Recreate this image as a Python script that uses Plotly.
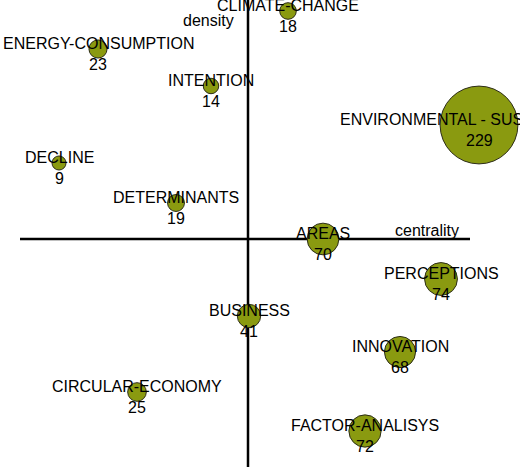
import plotly.graph_objects as go

# Strategic diagram (centrality vs density)
themes = ["CLIMATE-CHANGE", "ENERGY-CONSUMPTION", "INTENTION", "ENVIRONMENTAL - SUSTAINABILITY",
          "DECLINE", "DETERMINANTS", "AREAS", "PERCEPTIONS", "BUSINESS", "INNOVATION",
          "CIRCULAR-ECONOMY", "FACTOR-ANALISYS"]
centrality = [4.0, -15.0, -3.7, 23.1, -18.9, -7.2, 7.5, 19.3, 0.1, 15.2, -11.1, 11.7]
density = [22.8, 19.0, 15.3, 11.4, 7.6, 3.6, 0.0, -4.0, -7.7, -11.3, -15.3, -19.2]
documents = [18, 23, 14, 229, 9, 19, 70, 74, 41, 68, 25, 72]

FONT = "Arial, 'Liberation Sans', sans-serif"
OLIVE = "rgb(138,154,16)"


def bubble_diameter(v):
    # linear size scale: bubble diameter grows with the number of documents
    return 11.4 + 0.29 * v


fig = go.Figure()
fig.add_trace(go.Scatter(
    x=centrality, y=density, mode="markers",
    marker=dict(size=[bubble_diameter(v) for v in documents], sizemode="diameter",
                color=OLIVE, line=dict(color="rgb(45,45,25)", width=1), opacity=1),
    hoverinfo="skip", showlegend=False, cliponaxis=False,
))

annotations = []
for name, cx, dy, n in zip(themes, centrality, density, documents):
    annotations.append(dict(x=cx, y=dy, xref="x", yref="y", text=name, showarrow=False,
                            yshift=6, font=dict(family=FONT, size=16, color="#000")))
    annotations.append(dict(x=cx, y=dy, xref="x", yref="y", text=str(n), showarrow=False,
                            yshift=-15, font=dict(family=FONT, size=16, color="#000")))

annotations.append(dict(x=-4.0, y=21.9, xref="x", yref="y", text="density", showarrow=False,
                        font=dict(family=FONT, size=16, color="#000")))
annotations.append(dict(x=17.9, y=0.9, xref="x", yref="y", text="centrality", showarrow=False,
                        font=dict(family=FONT, size=16, color="#000")))

fig.update_layout(
    width=520, height=472,
    margin=dict(l=0, r=0, t=0, b=0),
    paper_bgcolor="white", plot_bgcolor="white",
    xaxis=dict(visible=False, range=[-24.8, 27.2], fixedrange=True),
    yaxis=dict(visible=False, range=[-23.3, 23.9], fixedrange=True),
    shapes=[
        dict(type="line", xref="x", yref="y", x0=-22.8, x1=22.2, y0=0, y1=0,
             line=dict(color="black", width=2.5), layer="below"),
        dict(type="line", xref="x", yref="y", x0=0, x1=0, y0=-22.8, y1=23.9,
             line=dict(color="black", width=2.5), layer="below"),
    ],
    annotations=annotations,
)

fig.write_html(
    "out.html",
    config={"displayModeBar": False},
    post_script="document.body.style.margin='0';document.body.style.overflow='hidden';",
)
